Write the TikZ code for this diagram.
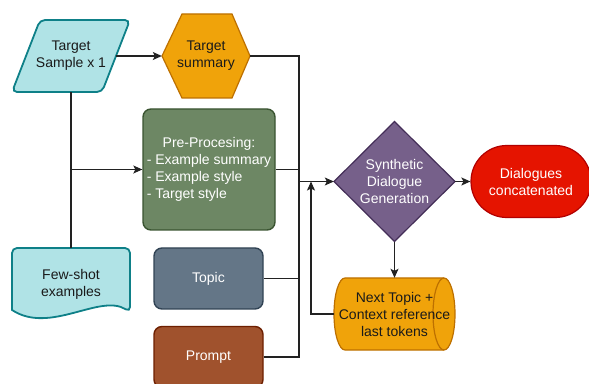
\documentclass[tikz,border=0pt]{standalone}
\usepackage{fontspec}
\setmainfont{Liberation Sans}
\usetikzlibrary{arrows.meta}
\definecolor{cyanfill}{HTML}{B0E3E6}
\definecolor{cyanline}{HTML}{0E8088}
\definecolor{orfill}{HTML}{F0A30A}
\definecolor{orline}{HTML}{BD7000}
\definecolor{grfill}{HTML}{6D8764}
\definecolor{grline}{HTML}{3A5431}
\definecolor{blfill}{HTML}{647687}
\definecolor{blline}{HTML}{314354}
\definecolor{brfill}{HTML}{A0522D}
\definecolor{brline}{HTML}{6D1F00}
\definecolor{pufill}{HTML}{76608A}
\definecolor{puline}{HTML}{432D57}
\definecolor{rdfill}{HTML}{E51400}
\definecolor{rdline}{HTML}{B20000}
\definecolor{linec}{HTML}{222222}
\definecolor{darktext}{HTML}{1A1A1A}
\begin{document}
\begin{tikzpicture}[x=1pt,y=1pt,
  font=\fontsize{14}{17}\selectfont,
  conn/.style={draw=linec, line width=1.1pt},
  arr/.style={conn, -{Stealth[length=9pt,width=8pt,inset=2pt]}},
  holder/.style={inner sep=0pt, align=center},
  boxshape/.style={draw, rectangle, rounded corners=8pt, line width=1.4pt, inner sep=0pt, align=center, text=white},
  cyanshape/.style={fill=cyanfill, draw=cyanline, line width=1.8pt},
  orshape/.style={fill=orfill, draw=orline, line width=1.2pt},
  purshape/.style={fill=pufill, draw=puline, line width=1.2pt}
]
\useasboundingbox (0,0) rectangle (589,383);
\clip (0,0) rectangle (589,383);

% ---- shapes drawn directly ----
% Target sample (parallelogram)
\draw[cyanshape, rounded corners=5pt] (40,363) -- (130,363) -- (102,291) -- (12,291) -- cycle;
% Target summary (hexagon)
\draw[orshape] (162,327) -- (182,369) -- (232,369) -- (250,327) -- (232,285) -- (182,285) -- cycle;
% Few-shot examples (document)
\draw[cyanshape, rounded corners=5pt] (12,102) -- (12,135) -- (130,135) -- (130,71)
  [sharp corners] .. controls (100,90) and (50,48) .. (12,73) -- (12,102);
% Synthetic dialogue generation (diamond)
\draw[purshape] (334,201.5) -- (394.5,261.5) -- (455,201.5) -- (394.5,141.5) -- cycle;
% Cylinder
\draw[orshape] (345,105) -- (444,105)
  arc[start angle=90, end angle=-90, x radius=11, y radius=36]
  -- (345,33)
  arc[start angle=270, end angle=90, x radius=11, y radius=36] -- cycle;
\draw[draw=orline, line width=1.2pt] (444,105) arc[start angle=90, end angle=270, x radius=11, y radius=36];

% ---- nodes ----
\node[holder, text=darktext, minimum width=90pt, minimum height=72pt] (ts) at (71,327) {Target\\Sample x 1};
\node[holder, text=darktext, minimum width=88pt, minimum height=84pt] (tsum) at (206,327) {Target\\summary};
\node[holder, text=darktext, minimum width=118pt, minimum height=72pt] (fs) at (71,99) {Few-shot\\examples};
\node[boxshape, fill=grfill, draw=grline, minimum width=132pt, minimum height=121pt] (pre) at (209,213.5)
  {\begin{tabular}{@{}l@{}}\multicolumn{1}{c}{Pre-Procesing:}\\- Example summary\\- Example style\\- Target style\end{tabular}};
\node[boxshape, fill=blfill, draw=blline, minimum width=109pt, minimum height=61pt] (topic) at (208.5,104.5) {Topic};
\node[boxshape, fill=brfill, draw=brline, minimum width=109pt, minimum height=61pt] (prompt) at (208.5,26) {Prompt};
\node[holder, text=white, minimum width=121pt, minimum height=120pt] (dia) at (394.5,201.5) {Synthetic\\Dialogue\\Generation};
\node[draw=rdline, fill=rdfill, line width=1.2pt, rectangle, rounded corners=35.9pt, inner sep=0pt, align=center, text=white,
  minimum width=120pt, minimum height=72pt] (dial) at (531,201.5) {Dialogues\\concatenated};
\node[holder, text=darktext, minimum width=121pt, minimum height=72pt] (cyl) at (394.5,69) {Next Topic +\\Context reference\\last tokens};

\coordinate (j) at (299,201.5);
\coordinate (k) at (311,201.5);

% ---- connectors ----
\draw[arr] (ts.east) -- (tsum.west);
\draw[arr] (ts.south) |- (pre.west);
\draw[conn] (fs.north) |- (pre.west);
\draw[conn] (tsum.east) -| (j);
\draw[conn] (pre.east) -| (j);
\draw[conn] (topic.east) -| (j);
\draw[conn] (prompt.east) -| (j);
\draw[arr] (j) -- (dia.west);
\draw[arr] (cyl.west) -| (k);
\draw[arr] (dia.east) -- (dial.west);
\draw[arr] (dia.south) -- (cyl.north);
\end{tikzpicture}
\end{document}
